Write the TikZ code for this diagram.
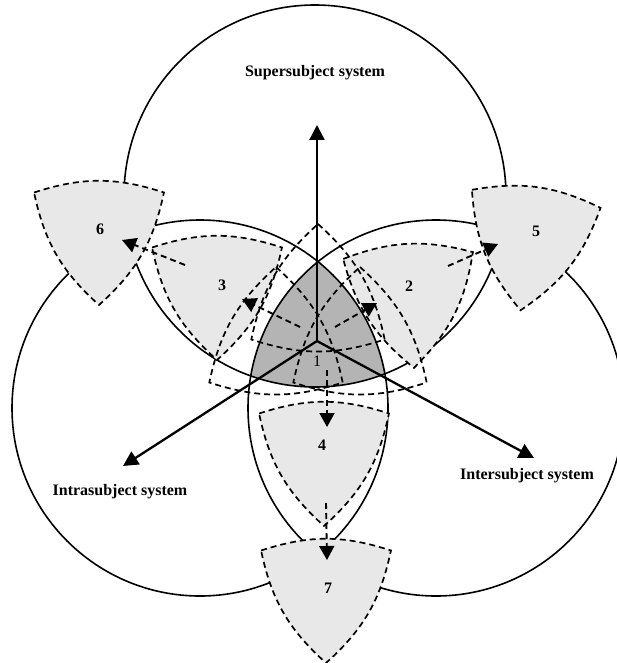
\documentclass[tikz,border=0pt]{standalone}
\usepackage{fontspec}
\setmainfont{Liberation Serif}
\usetikzlibrary{arrows.meta}

\definecolor{coregray}{RGB}{180,180,180}
\definecolor{zonegray}{RGB}{232,232,232}

\tikzset{
  big/.style={line width=1.6pt},
  zone/.style={fill=zonegray,draw,line width=1.7pt,dash pattern=on 6pt off 4pt},
  ghost/.style={draw,line width=1.7pt,dash pattern=on 6pt off 4pt},
  move/.style={line width=1.9pt,dash pattern=on 6pt off 4pt,-{Triangle[length=14pt,width=15pt]}},
  axis/.style={line width=2.3pt,-{Triangle[length=15pt,width=15pt]}},
  sysname/.style={font=\fontsize{16}{19}\selectfont\bfseries},
  num/.style={font=\fontsize{16}{19}\selectfont\bfseries},
  wedge/.pic={\path[pic actions] (150:75) to[bend left=18] (30:75) to[bend left=18] (270:75) to[bend left=18] cycle;},
  core/.pic={\path[pic actions] (90:77) to[bend left=18] (330:77) to[bend left=18] (210:77) to[bend left=18] cycle;}
}

\begin{document}
\begin{tikzpicture}[x=1pt,y=1pt]
\useasboundingbox (0,0) rectangle (617,-663);

% the three systems
\coordinate (tc) at (315,-196);
\coordinate (lc) at (200,-408);
\coordinate (rc) at (436,-408);

% zone 1, common to all three
\begin{scope}
  \clip (tc) circle (191pt);
  \clip (lc) circle (188pt);
  \fill[coregray] (rc) circle (188pt);
\end{scope}
\draw[big] (tc) circle (191pt);
\draw[big] (lc) circle (188pt);
\draw[big] (rc) circle (188pt);

% zones 2 to 7
\pic[zone,rotate=3] at (410,-293) {wedge};
\pic[zone] at (217,-285) {wedge};
\pic[zone] at (324,-451) {wedge};
\pic[zone,rotate=-8] at (531,-236) {wedge};
\pic[zone] at (99,-230) {wedge};
\pic[zone] at (326,-588) {wedge};

% zone 1 shifted
\pic[ghost] at (318,-301) {core};
\pic[ghost] at (276,-344) {core};
\pic[ghost] at (360,-344) {core};

% axes
\coordinate (o) at (317,-341);
\coordinate (supax) at (317,-125);
\coordinate (intraax) at (123,-466);
\coordinate (interax) at (534,-458);
\draw[axis] (o) -- (supax);
\draw[axis] (o) -- (intraax);
\draw[axis] (o) -- (interax);

\node[sysname] (sup) at (315,-73) {Supersubject system};
\node[sysname] (intra) at (120,-492) {Intrasubject system};
\node[sysname] (inter) at (527,-476) {Intersubject system};

% zone numbers
\node[font=\fontsize{16}{19}\selectfont] (z1) at (317,-361) {1};
\node[num] (z2) at (409,-286) {2};
\node[num] (z3) at (222,-285) {3};
\node[num] (z4) at (322,-445) {4};
\node[num] (z5) at (536,-231) {5};
\node[num] (z6) at (100,-229) {6};
\node[num] (z7) at (328,-588) {7};

% moves between zones
\coordinate (s12) at (335,-327); \coordinate (t12) at (377,-303);
\coordinate (s13) at (300,-327); \coordinate (t13) at (242,-299);
\coordinate (s14) at (327,-370); \coordinate (t14) at (327,-427);
\coordinate (s25) at (448,-266); \coordinate (t25) at (498,-244);
\coordinate (s36) at (185,-265); \coordinate (t36) at (122,-240);
\coordinate (s47) at (326,-503); \coordinate (t47) at (327,-560);
\foreach \s/\t in {s12/t12,s13/t13,s14/t14,s25/t25,s36/t36,s47/t47}
  \draw[move] (\s) -- (\t);
\end{tikzpicture}
\end{document}
